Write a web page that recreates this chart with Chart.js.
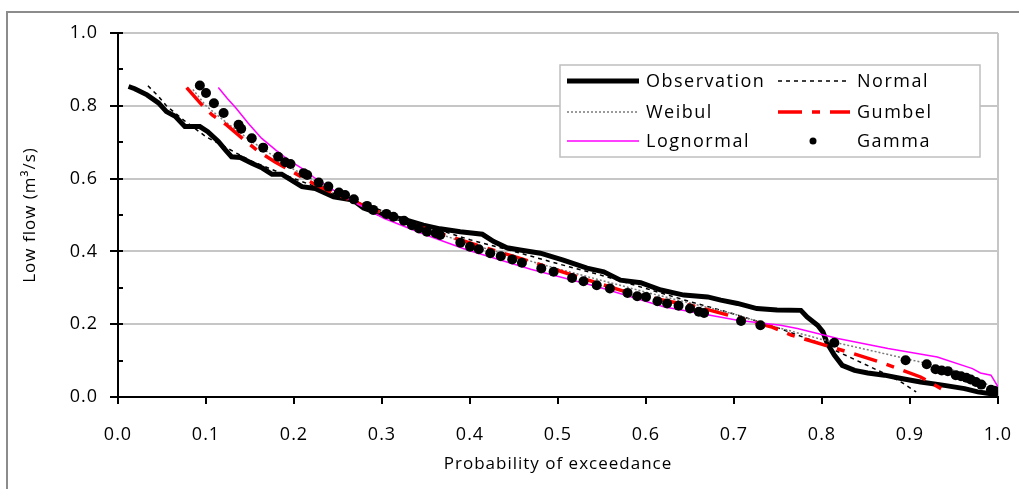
<!DOCTYPE html>
<html>
<head>
<meta charset="utf-8">
<script src="https://cdn.jsdelivr.net/npm/chart.js@4.4.1/dist/chart.umd.min.js"></script>
<style>
    html, body { margin: 0; padding: 0; background: #fff; overflow: hidden; }
    #frame {
        position: absolute; left: 6px; top: 11px;
        width: 1100px; height: 600px;
        border: 2px solid #8c8c8c;
    }
    #wrap { position: absolute; left: 0; top: 0; width: 1019px; height: 489px; }
</style>
</head>
<body>
<div id="frame"></div>
<div id="wrap"><canvas id="chart" width="1019" height="489"></canvas></div>
<script>
// Observation (probability of exceedance, low flow)
const obsP = [0.012, 0.019, 0.033, 0.046, 0.055, 0.065, 0.076, 0.093, 0.102, 0.114, 0.122, 0.129, 0.139, 0.152, 0.164, 0.175, 0.186, 0.197, 0.209, 0.224, 0.245, 0.267, 0.279, 0.302, 0.328, 0.347, 0.366, 0.389, 0.414, 0.427, 0.442, 0.457, 0.480, 0.506, 0.533, 0.552, 0.571, 0.594, 0.617, 0.643, 0.670, 0.685, 0.704, 0.726, 0.749, 0.776, 0.783, 0.795, 0.801, 0.806, 0.814, 0.823, 0.837, 0.852, 0.871, 0.890, 0.912, 0.939, 0.962, 0.977, 0.992, 1.000];
const obsQ = [0.853, 0.847, 0.830, 0.808, 0.784, 0.771, 0.743, 0.743, 0.729, 0.702, 0.679, 0.660, 0.658, 0.642, 0.629, 0.612, 0.612, 0.596, 0.578, 0.573, 0.550, 0.541, 0.519, 0.500, 0.486, 0.472, 0.462, 0.454, 0.447, 0.427, 0.410, 0.404, 0.395, 0.376, 0.354, 0.344, 0.321, 0.314, 0.294, 0.280, 0.275, 0.266, 0.257, 0.243, 0.239, 0.238, 0.220, 0.197, 0.179, 0.147, 0.115, 0.087, 0.073, 0.066, 0.060, 0.051, 0.041, 0.032, 0.023, 0.014, 0.009, 0.007];

// Normal
const normP = [0.034, 0.046, 0.055, 0.075, 0.100, 0.150, 0.200, 0.250, 0.300, 0.350, 0.400, 0.450, 0.500, 0.550, 0.600, 0.650, 0.700, 0.750, 0.795, 0.831, 0.853, 0.875, 0.890, 0.907];
const normQ = [0.855, 0.826, 0.800, 0.760, 0.715, 0.650, 0.600, 0.555, 0.512, 0.470, 0.432, 0.400, 0.366, 0.334, 0.298, 0.262, 0.228, 0.190, 0.150, 0.110, 0.085, 0.060, 0.041, 0.014];

// Weibul
const weibP = [0.085, 0.100, 0.120, 0.150, 0.200, 0.250, 0.300, 0.350, 0.400, 0.500, 0.600, 0.700, 0.742, 0.800, 0.855, 0.912, 0.950, 0.984, 1.000];
const weibQ = [0.845, 0.800, 0.760, 0.705, 0.625, 0.560, 0.505, 0.460, 0.420, 0.352, 0.288, 0.228, 0.196, 0.158, 0.128, 0.096, 0.073, 0.041, 0.010];

// Gumbel
const gumbP = [0.078, 0.097, 0.107, 0.122, 0.141, 0.159, 0.179, 0.201, 0.224, 0.245, 0.300, 0.358, 0.420, 0.469, 0.520, 0.582, 0.620, 0.658, 0.742, 0.765, 0.829, 0.871, 0.912, 0.942];
const gumbQ = [0.850, 0.798, 0.775, 0.750, 0.711, 0.676, 0.645, 0.615, 0.584, 0.560, 0.505, 0.455, 0.408, 0.372, 0.332, 0.285, 0.266, 0.248, 0.193, 0.170, 0.124, 0.092, 0.055, 0.014];

// Lognormal
const lognP = [0.114, 0.124, 0.134, 0.148, 0.163, 0.179, 0.194, 0.209, 0.224, 0.250, 0.302, 0.350, 0.397, 0.469, 0.545, 0.620, 0.704, 0.753, 0.772, 0.818, 0.875, 0.931, 0.971, 0.980, 0.992, 1.000];
const lognQ = [0.850, 0.821, 0.794, 0.752, 0.711, 0.679, 0.651, 0.628, 0.601, 0.560, 0.491, 0.445, 0.404, 0.351, 0.303, 0.248, 0.211, 0.197, 0.188, 0.161, 0.133, 0.110, 0.078, 0.066, 0.060, 0.028];

// Gamma (markers only)
const gammaP = [0.093, 0.100, 0.109, 0.120, 0.137, 0.140, 0.152, 0.165, 0.182, 0.190, 0.196, 0.211, 0.215, 0.228, 0.239, 0.251, 0.258, 0.268, 0.283, 0.290, 0.305, 0.313, 0.325, 0.334, 0.342, 0.351, 0.361, 0.366, 0.389, 0.400, 0.410, 0.423, 0.435, 0.448, 0.459, 0.481, 0.495, 0.516, 0.529, 0.544, 0.559, 0.579, 0.590, 0.600, 0.613, 0.624, 0.637, 0.650, 0.660, 0.666, 0.708, 0.730, 0.814, 0.895, 0.919, 0.929, 0.936, 0.943, 0.952, 0.958, 0.964, 0.969, 0.975, 0.981, 0.992, 0.996];
const gammaQ = [0.856, 0.835, 0.807, 0.780, 0.748, 0.737, 0.711, 0.685, 0.660, 0.645, 0.640, 0.615, 0.610, 0.589, 0.578, 0.562, 0.555, 0.543, 0.525, 0.514, 0.503, 0.495, 0.484, 0.472, 0.463, 0.454, 0.450, 0.445, 0.424, 0.413, 0.406, 0.395, 0.387, 0.378, 0.369, 0.353, 0.344, 0.327, 0.318, 0.307, 0.298, 0.286, 0.277, 0.275, 0.263, 0.257, 0.251, 0.243, 0.234, 0.231, 0.209, 0.197, 0.149, 0.101, 0.090, 0.076, 0.073, 0.071, 0.060, 0.057, 0.053, 0.048, 0.041, 0.034, 0.020, 0.017];

const seriesNames = ['Observation', 'Normal', 'Weibul', 'Gumbel', 'Lognormal', 'Gamma'];

const FONT = '"Open Sans", "DejaVu Sans", sans-serif';

function pts(xs, ys) {
    return xs.map((x, i) => ({ x: x, y: ys[i] }));
}

// Legend drawn inside the plot, two columns like the original
const boxLegend = {
    id: 'boxLegend',
    afterDatasetsDraw(chart) {
        const ctx = chart.ctx;
        const ds = chart.data.datasets;
        ctx.save();
        ctx.fillStyle = '#fff';
        ctx.fillRect(560, 65, 420, 92);
        ctx.strokeStyle = '#bfbfbf';
        ctx.lineWidth = 1.5;
        ctx.strokeRect(560, 65, 420, 92);

        const rows = [81, 112, 141];
        const cols = [{ s0: 567, s1: 639, tx: 646 }, { s0: 778, s1: 850, tx: 857 }];
        ds.forEach((d, i) => {
            const c = cols[i % 2];
            const y = rows[Math.floor(i / 2)];
            if (d.showLine) {
                ctx.beginPath();
                ctx.strokeStyle = d.borderColor;
                ctx.lineWidth = d.borderWidth;
                ctx.setLineDash(d.borderDash || []);
                ctx.moveTo(c.s0, y);
                ctx.lineTo(c.s1, y);
                ctx.stroke();
                ctx.setLineDash([]);
            } else {
                ctx.beginPath();
                ctx.fillStyle = d.pointBackgroundColor;
                ctx.arc((c.s0 + c.s1) / 2 - 1, y, 3.5, 0, Math.PI * 2);
                ctx.fill();
            }
            ctx.fillStyle = '#000';
            ctx.font = '18px ' + FONT;
            ctx.letterSpacing = '1.5px';
            ctx.textBaseline = 'middle';
            ctx.textAlign = 'left';
            ctx.fillText(d.label, c.tx, y + 1);
        });
        ctx.restore();
    }
};

// short inside tick marks on the value axis (minor ones have no label)
const innerTicks = {
    id: 'innerTicks',
    afterDraw(chart) {
        const s = chart.scales.y;
        const ctx = chart.ctx;
        ctx.save();
        ctx.strokeStyle = '#000';
        ctx.lineWidth = 2;
        s.ticks.forEach(t => {
            const y = Math.round(s.getPixelForValue(t.value));
            ctx.beginPath();
            ctx.moveTo(s.right, y);
            ctx.lineTo(s.right + 5, y);
            ctx.stroke();
        });
        ctx.restore();
    }
};

const spacing = {
    id: 'spacing',
    beforeDraw(chart) {
        chart.ctx.letterSpacing = '1px';
    }
};

const ctx = document.getElementById('chart').getContext('2d');
const chart = new Chart(ctx, {
    type: 'scatter',
    data: {
        datasets: [
            {
                label: seriesNames[0], data: pts(obsP, obsQ), showLine: true,
                borderColor: '#000', borderWidth: 5, pointRadius: 0, order: 6,
                borderJoinStyle: 'miter'
            },
            {
                label: seriesNames[1], data: pts(normP, normQ), showLine: true,
                borderColor: '#000', borderWidth: 1.5, borderDash: [4, 4], pointRadius: 0, order: 5
            },
            {
                label: seriesNames[2], data: pts(weibP, weibQ), showLine: true,
                borderColor: '#7a7a7a', borderWidth: 1.5, borderDash: [2, 2], pointRadius: 0, order: 4
            },
            {
                label: seriesNames[3], data: pts(gumbP, gumbQ), showLine: true,
                borderColor: '#ff0000', borderWidth: 3.5, borderDash: [24, 10, 8, 10], pointRadius: 0, order: 3
            },
            {
                label: seriesNames[4], data: pts(lognP, lognQ), showLine: true,
                borderColor: '#ff00ff', borderWidth: 1.5, pointRadius: 0, order: 2
            },
            {
                label: seriesNames[5], data: pts(gammaP, gammaQ), showLine: false,
                pointRadius: 5, pointBackgroundColor: '#000', pointBorderWidth: 0,
                borderColor: '#000', order: 1
            }
        ]
    },
    options: {
        responsive: false,
        animation: false,
        layout: { padding: { left: 0, top: 33, right: 21, bottom: 0 } },
        plugins: {
            legend: { display: false },
            tooltip: { enabled: false }
        },
        scales: {
            x: {
                type: 'linear',
                min: 0, max: 1,
                afterFit: s => { s.height = 92; s.paddingLeft = 0; s.paddingRight = 0; },
                ticks: {
                    stepSize: 0.1,
                    color: '#000',
                    padding: 20,
                    font: { family: FONT, size: 18 },
                    callback: v => v.toFixed(1)
                },
                grid: {
                    color: c => (c.index === 10 ? '#c6c6c6' : 'rgba(0,0,0,0)'),
                    lineWidth: 2,
                    tickColor: '#000',
                    tickLength: 7,
                    tickWidth: 2
                },
                border: { color: '#000', width: 2 },
                title: {
                    display: true,
                    text: 'Probability of exceedance',
                    color: '#000',
                    font: { family: FONT, size: 17 },
                    padding: { top: 2, bottom: 15 }
                }
            },
            y: {
                type: 'linear',
                min: 0, max: 1,
                afterFit: s => { s.width = 118; s.paddingTop = 0; s.paddingBottom = 0; },
                ticks: {
                    stepSize: 0.1,
                    color: '#000',
                    padding: 12,
                    font: { family: FONT, size: 18 },
                    callback: (v, i) => (i % 2 === 0 ? v.toFixed(1) : '')
                },
                grid: {
                    color: c => (c.index % 2 === 0 && c.index > 0 ? '#c6c6c6' : 'rgba(0,0,0,0)'),
                    lineWidth: 2,
                    tickColor: c => (c.index % 2 === 0 ? '#000' : 'rgba(0,0,0,0)'),
                    tickLength: 8,
                    tickWidth: 2
                },
                border: { color: '#000', width: 2 },
                title: {
                    display: true,
                    text: 'Low flow (m³/s)',
                    color: '#000',
                    font: { family: FONT, size: 17 },
                    padding: { top: 20, bottom: 0 }
                }
            }
        }
    },
    plugins: [spacing, innerTicks, boxLegend]
});
</script>
</body>
</html>
